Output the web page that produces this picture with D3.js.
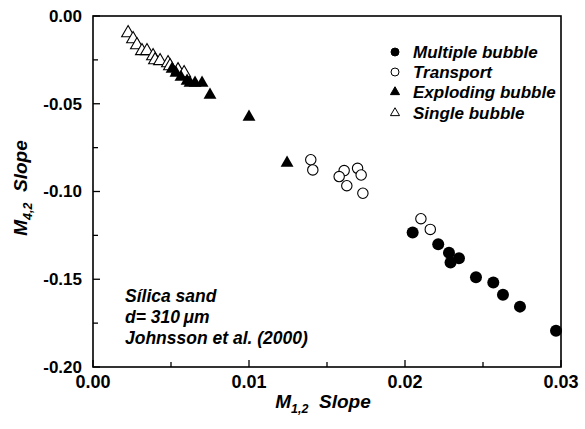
<!DOCTYPE html>
<html>
<head>
<meta charset="utf-8">
<script src="https://cdn.jsdelivr.net/npm/d3@7"></script>
<style>
  body { margin: 0; background: #fff; }
  text { font-family: "Liberation Sans", Arial, sans-serif; font-weight: bold; }
</style>
</head>
<body>
<div id="chart"></div>
<script>
// M1,2 slope (x) and M4,2 slope (y) for each regime
const multipleX = [0.02049, 0.02213, 0.02282, 0.02346, 0.02292, 0.02455, 0.02566, 0.02628, 0.02737, 0.02968];
const multipleY = [-0.1233, -0.1301, -0.1349, -0.1381, -0.1405, -0.1489, -0.1518, -0.1588, -0.1656, -0.1793];

const transportX = [0.02102, 0.02162, 0.01396, 0.01409, 0.0161, 0.01578, 0.01627, 0.01696, 0.01719, 0.0173];
const transportY = [-0.1155, -0.1216, -0.0819, -0.0877, -0.0881, -0.0915, -0.0967, -0.0868, -0.0906, -0.1010];

const explodingX = [0.00507, 0.00532, 0.00564, 0.00603, 0.00622, 0.00654, 0.00699, 0.0075, 0.0100, 0.01244];
const explodingY = [-0.0302, -0.0325, -0.0348, -0.0370, -0.0382, -0.0382, -0.0382, -0.0450, -0.0575, -0.0838];

const singleX = [0.00225, 0.00257, 0.00282, 0.00314, 0.00346, 0.00385, 0.00398, 0.0043, 0.00481, 0.00494, 0.00545, 0.00584];
const singleY = [-0.0097, -0.0131, -0.0165, -0.0199, -0.0199, -0.0228, -0.0251, -0.0256, -0.0268, -0.0285, -0.0308, -0.0325];

const xTicks = [0.00, 0.01, 0.02, 0.03];
const yTicks = [0.00, -0.05, -0.10, -0.15, -0.20];
const legendNames = ['Multiple bubble', 'Transport', 'Exploding bubble', 'Single bubble'];
const noteLines = ['Sílica sand', 'd= 310\u2009μm', 'Johnsson et al. (2000)'];

const width = 585, height = 429;
const mLeft = 93, mRight = 561, mTop = 16, mBottom = 367;

const svg = d3.select('#chart').append('svg')
  .attr('width', width)
  .attr('height', height);

const x = d3.scaleLinear().domain([0, 0.03]).range([mLeft, mRight]);
const y = d3.scaleLinear().domain([-0.20, 0]).range([mBottom, mTop]);

// box
svg.append('rect')
  .attr('x', mLeft).attr('y', mTop)
  .attr('width', mRight - mLeft).attr('height', mBottom - mTop)
  .attr('fill', 'none').attr('stroke', '#000').attr('stroke-width', 1.6);

// x axis ticks (inward)
const xMinor = d3.range(0, 0.0301, 0.005);
svg.append('g').selectAll('line').data(xMinor).enter().append('line')
  .attr('x1', d => x(d)).attr('x2', d => x(d))
  .attr('y1', mBottom)
  .attr('y2', (d, i) => mBottom - (i % 2 === 0 ? 7 : 5))
  .attr('stroke', '#000').attr('stroke-width', 1.3);

svg.append('g').selectAll('text').data(xTicks).enter().append('text')
  .attr('x', d => x(d)).attr('y', 388)
  .attr('text-anchor', 'middle')
  .attr('font-size', '18px')
  .text(d => d3.format('.2f')(d));

// y axis ticks (inward)
const yMinor = d3.range(0, 9).map(i => -0.025 * i);
svg.append('g').selectAll('line').data(yMinor).enter().append('line')
  .attr('y1', d => y(d)).attr('y2', d => y(d))
  .attr('x1', mLeft)
  .attr('x2', (d, i) => mLeft + (i % 2 === 0 ? 7 : 5))
  .attr('stroke', '#000').attr('stroke-width', 1.3);

svg.append('g').selectAll('text').data(yTicks).enter().append('text')
  .attr('x', 82).attr('y', d => y(d))
  .attr('dy', '0.35em')
  .attr('text-anchor', 'end')
  .attr('font-size', '17px')
  .text(d => d3.format('.2f')(d).replace('−', '-'));

// axis titles
const xt = svg.append('text')
  .attr('x', 323).attr('y', 408)
  .attr('text-anchor', 'middle')
  .attr('font-size', '19px')
  .attr('font-style', 'italic');
xt.append('tspan').text('M');
xt.append('tspan').attr('dy', 5).attr('font-size', '12.5px').text('1,2');
xt.append('tspan').attr('dy', -5).text('\u00a0 Slope');

const yt = svg.append('text')
  .attr('transform', 'translate(27,188) rotate(-90)')
  .attr('text-anchor', 'middle')
  .attr('font-size', '19px')
  .attr('font-style', 'italic');
yt.append('tspan').text('M');
yt.append('tspan').attr('dy', 5).attr('font-size', '12.5px').text('4,2');
yt.append('tspan').attr('dy', -5).text('\u00a0 Slope');

// markers
const tri = d3.symbol().type(d3.symbolTriangle).size(72);

function pts(xs, ys) { return xs.map((v, i) => [v, ys[i]]); }

svg.append('g').selectAll('circle').data(pts(multipleX, multipleY)).enter().append('circle')
  .attr('cx', d => x(d[0])).attr('cy', d => y(d[1])).attr('r', 6)
  .attr('fill', '#000');

svg.append('g').selectAll('circle').data(pts(transportX, transportY)).enter().append('circle')
  .attr('cx', d => x(d[0])).attr('cy', d => y(d[1])).attr('r', 5.2)
  .attr('fill', '#fff').attr('stroke', '#000').attr('stroke-width', 1.1);

svg.append('g').selectAll('path').data(pts(singleX, singleY)).enter().append('path')
  .attr('d', tri)
  .attr('transform', d => `translate(${x(d[0])},${y(d[1])})`)
  .attr('fill', '#fff').attr('stroke', '#000').attr('stroke-width', 1.1);

svg.append('g').selectAll('path').data(pts(explodingX, explodingY)).enter().append('path')
  .attr('d', tri)
  .attr('transform', d => `translate(${x(d[0])},${y(d[1])})`)
  .attr('fill', '#000');

// legend
const legY = [52, 72, 92, 113];
const leg = svg.append('g').selectAll('g').data(legendNames).enter().append('g')
  .attr('transform', (d, i) => `translate(395,${legY[i]})`);

leg.each(function(d, i) {
  const g = d3.select(this);
  if (i < 2) {
    g.append('circle').attr('r', 4)
      .attr('fill', i === 0 ? '#000' : '#fff')
      .attr('stroke', '#000').attr('stroke-width', 1);
  } else {
    g.append('path').attr('d', d3.symbol().type(d3.symbolTriangle).size(36))
      .attr('fill', i === 2 ? '#000' : '#fff')
      .attr('stroke', '#000').attr('stroke-width', 1);
  }
  g.append('text').attr('x', 18).attr('dy', '0.35em')
    .attr('font-size', '17px').attr('font-style', 'italic')
    .text(d);
});

// annotation
svg.append('g').selectAll('text').data(noteLines).enter().append('text')
  .attr('x', 125).attr('y', (d, i) => 296 + i * 21)
  .attr('dy', '0.35em')
  .attr('font-size', '17.5px').attr('font-style', 'italic')
  .text(d => d);
</script>
</body>
</html>
